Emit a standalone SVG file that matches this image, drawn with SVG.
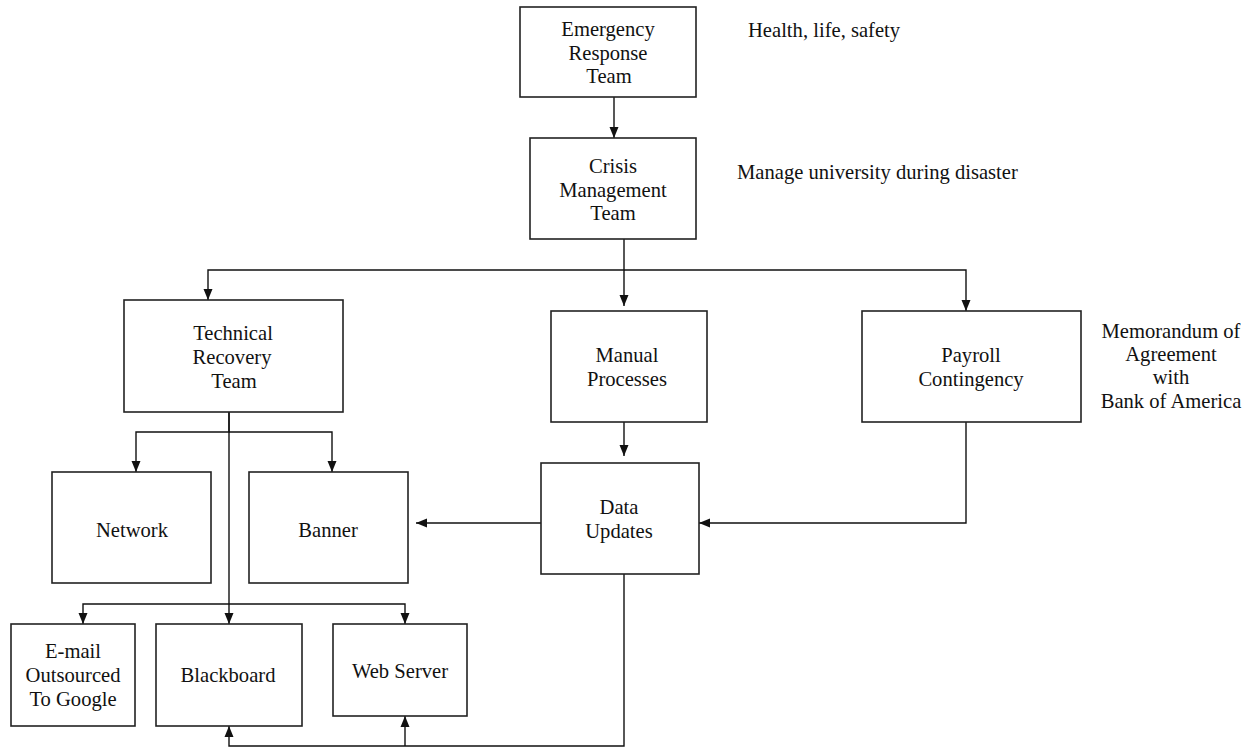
<svg xmlns="http://www.w3.org/2000/svg" width="1255" height="748" viewBox="0 0 1255 748">
<style>
.box{fill:#fff;stroke:#222;stroke-width:1.6}
.t{font-family:"Liberation Serif","Times New Roman",serif;font-size:20.6px;fill:#111;text-anchor:middle}
.n{font-family:"Liberation Serif","Times New Roman",serif;font-size:20.6px;fill:#111}
.c{fill:none;stroke:#111;stroke-width:1.4}
</style>
<defs>
<marker id="ah" markerUnits="userSpaceOnUse" markerWidth="11" markerHeight="10" refX="11" refY="5" orient="auto">
<path d="M0,0.5 L11,5 L0,9.5 z" fill="#111"/>
</marker>
</defs>
<rect width="1255" height="748" fill="#fff"/>
<g id="connectors">
<path class="c" d="M614,97 V138" marker-end="url(#ah)"/>
<path class="c" d="M624,239 V270 H208 V300" marker-end="url(#ah)"/>
<path class="c" d="M624,270 V306" marker-end="url(#ah)"/>
<path class="c" d="M624,270 H966 V311" marker-end="url(#ah)"/>
<path class="c" d="M229,412 V432 H136 V472" marker-end="url(#ah)"/>
<path class="c" d="M229,432 H332 V472" marker-end="url(#ah)"/>
<path class="c" d="M229,412 V624" marker-end="url(#ah)"/>
<path class="c" d="M229,604 H83 V624" marker-end="url(#ah)"/>
<path class="c" d="M229,604 H405 V624" marker-end="url(#ah)"/>
<path class="c" d="M624,422 V456" marker-end="url(#ah)"/>
<path class="c" d="M966,422 V523 H699" marker-end="url(#ah)"/>
<path class="c" d="M541,523 H416" marker-end="url(#ah)"/>
<path class="c" d="M624,574 V746 H229 V726" marker-end="url(#ah)"/>
<path class="c" d="M405,746 V716" marker-end="url(#ah)"/>
</g>
<g id="emergency">
<rect class="box" x="520" y="7" width="176" height="90"/>
<text class="t" x="608" y="36">Emergency</text>
<text class="t" x="608" y="60">Response</text>
<text class="t" x="609" y="83">Team</text>
</g>
<g id="crisis">
<rect class="box" x="530" y="138" width="166" height="101"/>
<text class="t" x="613" y="173">Crisis</text>
<text class="t" x="613" y="197">Management</text>
<text class="t" x="613" y="220">Team</text>
</g>
<g id="technical">
<rect class="box" x="124" y="300" width="219" height="112"/>
<text class="t" x="233" y="340">Technical</text>
<text class="t" x="232" y="364">Recovery</text>
<text class="t" x="234" y="388">Team</text>
</g>
<g id="manual">
<rect class="box" x="551" y="311" width="156" height="111"/>
<text class="t" x="627" y="362">Manual</text>
<text class="t" x="627" y="386">Processes</text>
</g>
<g id="payroll">
<rect class="box" x="862" y="311" width="219" height="111"/>
<text class="t" x="971" y="362">Payroll</text>
<text class="t" x="971" y="386">Contingency</text>
</g>
<g id="network">
<rect class="box" x="52" y="472" width="159" height="111"/>
<text class="t" x="132" y="537">Network</text>
</g>
<g id="banner">
<rect class="box" x="249" y="472" width="159" height="111"/>
<text class="t" x="328" y="537">Banner</text>
</g>
<g id="data">
<rect class="box" x="541" y="463" width="158" height="111"/>
<text class="t" x="619" y="514">Data</text>
<text class="t" x="619" y="538">Updates</text>
</g>
<g id="email">
<rect class="box" x="11" y="624" width="124" height="102"/>
<text class="t" x="73" y="658">E-mail</text>
<text class="t" x="73" y="682">Outsourced</text>
<text class="t" x="73" y="706">To Google</text>
</g>
<g id="blackboard">
<rect class="box" x="156" y="624" width="146" height="102"/>
<text class="t" x="228" y="682">Blackboard</text>
</g>
<g id="webserver">
<rect class="box" x="333" y="624" width="134" height="92"/>
<text class="t" x="400" y="678">Web Server</text>
</g>
<g id="notes">
<text class="n" x="748" y="37">Health, life, safety</text>
<text class="n" x="737" y="179">Manage university during disaster</text>
<text class="t" x="1171" y="338">Memorandum of</text>
<text class="t" x="1171" y="361">Agreement</text>
<text class="t" x="1171" y="384">with</text>
<text class="t" x="1171" y="408">Bank of America</text>
</g>
</svg>
